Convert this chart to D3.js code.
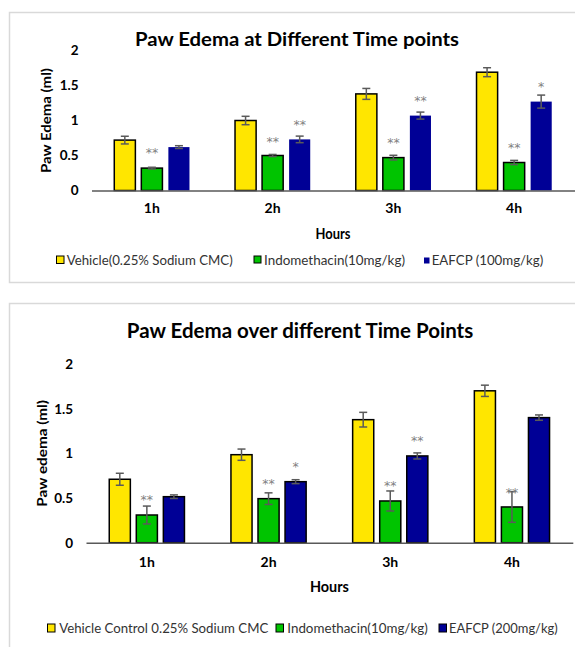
<!DOCTYPE html>
<html>
<head>
<meta charset="utf-8">
<script src="https://cdn.jsdelivr.net/npm/d3@7"></script>
<style>
  html, body { margin: 0; padding: 0; background: #ffffff; }
  svg { display: block; font-family: Lato, "Open Sans", "DejaVu Sans", sans-serif; }
  .sig { opacity: 0.99; }
</style>
</head>
<body>
<svg id="chart" width="575" height="647"></svg>
<script>
// ---- shared categories and axis ticks ----
const hours = ["1h", "2h", "3h", "4h"];
const yTicks = [0, 0.5, 1, 1.5, 2];
const yTickLabels = ["0", "0.5", "1", "1.5", "2"];

// ---- panel A: 100 mg/kg study (paw edema, ml; mean and SEM) ----
const seriesNamesA = ["Vehicle(0.25% Sodium CMC)", "Indomethacin(10mg/kg)", "EAFCP (100mg/kg)"];
const vehicleA = [0.72, 1.00, 1.38, 1.69];
const vehicleErrA = [0.055, 0.06, 0.078, 0.064];
const indoA = [0.32, 0.50, 0.47, 0.40];
const indoErrA = [0.012, 0.015, 0.033, 0.03];
const eafcpA = [0.62, 0.73, 1.07, 1.27];
const eafcpErrA = [0.02, 0.047, 0.05, 0.093];
// significance marks and the height (ml) at which each is written
const indoSigA = ["**", "**", "**", "**"];
const indoSigAtA = [0.58, 0.75, 0.73, 0.66];
const eafcpSigA = ["", "**", "**", "*"];
const eafcpSigAtA = [0, 0.98, 1.33, 1.53];

// ---- panel B: 200 mg/kg study ----
const seriesNamesB = ["Vehicle Control 0.25% Sodium CMC", "Indomethacin(10mg/kg)", "EAFCP (200mg/kg)"];
const vehicleB = [0.71, 0.985, 1.377, 1.70];
const vehicleErrB = [0.067, 0.063, 0.082, 0.063];
const indoB = [0.31, 0.493, 0.467, 0.40];
const indoErrB = [0.10, 0.065, 0.112, 0.172];
const eafcpB = [0.515, 0.683, 0.971, 1.40];
const eafcpErrB = [0.02, 0.022, 0.034, 0.03];
const indoSigB = ["**", "**", "**", "**"];
const indoSigAtB = [0.515, 0.694, 0.672, 0.598];
const eafcpSigB = ["", "*", "**", ""];
const eafcpSigAtB = [0, 0.881, 1.176, 0];

const colors = ["#ffe600", "#00c400", "#000096"];

const svg = d3.select("#chart");

// fit a text element to a given width
function fit(sel, w) {
  sel.attr("textLength", w).attr("lengthAdjust", "spacingAndGlyphs");
  return sel;
}

function drawPanel(cfg) {
  const g = svg.append("g");

  // light frame round the chart
  g.append("rect")
    .attr("x", cfg.frame[0]).attr("y", cfg.frame[1])
    .attr("width", cfg.frame[2]).attr("height", cfg.frame[3])
    .attr("fill", "none").attr("stroke", "#d9d9d9").attr("stroke-width", 1.5);

  const x0 = d3.scaleBand().domain(hours).range(cfg.xRange).paddingInner(0).paddingOuter(0);
  const keys = [0, 1, 2];
  const x1 = d3.scaleBand().domain(keys).range([-37.6, 37.6]).paddingInner(0.22).paddingOuter(0);
  const y = d3.scaleLinear().domain([0, 2]).range(cfg.yRange);

  // title
  fit(g.append("text")
    .attr("x", cfg.titlePos[0]).attr("y", cfg.titlePos[1])
    .attr("text-anchor", "middle")
    .attr("font-size", cfg.titleSize).attr("font-weight", 700).attr("fill", "#000")
    .text(cfg.title), cfg.titleWidth);

  // y axis: labels only
  const yAxis = d3.axisLeft(y).tickValues(yTicks)
    .tickFormat((d, i) => yTickLabels[i]).tickSize(0).tickPadding(13);
  const ya = g.append("g").attr("transform", `translate(${cfg.xRange[0]},0)`).call(yAxis);
  ya.select(".domain").remove();
  ya.selectAll("text").attr("font-size", 13.5).attr("font-weight", 700)
    .attr("fill", "#000").attr("font-family", "Lato, sans-serif");

  // y axis title
  fit(g.append("text")
    .attr("transform", `translate(${cfg.yTitlePos[0]},${cfg.yTitlePos[1]}) rotate(-90)`)
    .attr("text-anchor", "middle").attr("dy", "0.35em")
    .attr("font-size", 14).attr("font-weight", 700).attr("fill", "#000")
    .text(cfg.yTitle), cfg.yTitleWidth);

  // bars
  const series = cfg.series;
  const groups = g.append("g").selectAll("g").data(hours).join("g")
    .attr("transform", h => `translate(${x0(h) + x0.bandwidth() / 2},0)`);

  series.forEach((s, k) => {
    const bw = x1.bandwidth();
    groups.append("rect")
      .attr("x", x1(k))
      .attr("y", (h, i) => y(s.values[i]))
      .attr("width", bw)
      .attr("height", (h, i) => y(0) - y(s.values[i]))
      .attr("fill", colors[k])
      .attr("stroke", s.stroke)
      .attr("stroke-width", s.stroke === "none" ? 0 : 1.5);
  });

  // error bars
  series.forEach((s, k) => {
    const cx = x1(k) + x1.bandwidth() / 2;
    const eb = groups.append("g").attr("stroke", "#5a5a5a").attr("stroke-width", 1.5);
    eb.append("line")
      .attr("x1", cx).attr("x2", cx)
      .attr("y1", (h, i) => y(s.values[i] + s.err[i]))
      .attr("y2", (h, i) => y(s.values[i] - s.err[i]));
    [1, -1].forEach(sign => {
      eb.append("line")
        .attr("x1", cx - 4).attr("x2", cx + 4)
        .attr("y1", (h, i) => y(s.values[i] + sign * s.err[i]))
        .attr("y2", (h, i) => y(s.values[i] + sign * s.err[i]));
    });
  });

  // significance marks
  series.forEach((s, k) => {
    if (!s.sig) return;
    const cx = x1(k) + x1.bandwidth() / 2;
    groups.append("text")
      .attr("class", "sig")
      .attr("x", cx)
      .attr("y", (h, i) => y(s.sigAt[i]) + 7.5)
      .attr("text-anchor", "middle")
      .attr("font-size", 12.5).attr("fill", "#808080")
      .attr("font-family", "'DejaVu Sans', sans-serif")
      .text((h, i) => s.sig[i]);
  });

  // x axis line and hour labels
  const xAxis = d3.axisBottom(x0).tickSize(0).tickSizeOuter(0).tickPadding(cfg.xPad);
  const xa = g.append("g").attr("transform", `translate(0,${y(0)})`).call(xAxis);
  xa.select(".domain").attr("stroke", "#595959").attr("stroke-width", 1.5);
  xa.selectAll("text").attr("font-size", 14).attr("font-weight", 700)
    .attr("fill", "#000").attr("font-family", "Lato, sans-serif");

  // x axis title
  fit(g.append("text")
    .attr("x", (cfg.xRange[0] + cfg.xRange[1]) / 2).attr("y", cfg.xTitleY)
    .attr("text-anchor", "middle")
    .attr("font-size", 16).attr("font-weight", 700).attr("fill", "#000")
    .text("Hours"), cfg.xTitleWidth);

  // legend
  cfg.legend.forEach((item, k) => {
    const sq = item.square;
    g.append("rect")
      .attr("x", sq[0]).attr("y", sq[1]).attr("width", sq[2]).attr("height", sq[3])
      .attr("fill", colors[k])
      .attr("stroke", item.outline ? "#000" : "none").attr("stroke-width", 1);
    fit(g.append("text")
      .attr("x", item.text[0]).attr("y", cfg.legendY)
      .attr("font-size", 13.5).attr("fill", "#333")
      .text(cfg.names[k]), item.text[1]);
  });
}

drawPanel({
  frame: [9.5, 12.5, 620, 270],
  xRange: [91.5, 574.5],
  yRange: [190.5, 50.5],
  title: "Paw Edema at Different Time points",
  titlePos: [297, 46], titleSize: 19, titleWidth: 324,
  yTitle: "Paw Edema (ml)", yTitlePos: [46, 120.5], yTitleWidth: 105,
  xPad: 12.5, xTitleY: 238.5, xTitleWidth: 35,
  names: seriesNamesA,
  series: [
    { values: vehicleA, err: vehicleErrA, stroke: "#000" },
    { values: indoA, err: indoErrA, stroke: "#000", sig: indoSigA, sigAt: indoSigAtA },
    { values: eafcpA, err: eafcpErrA, stroke: "none", sig: eafcpSigA, sigAt: eafcpSigAtA }
  ],
  legendY: 264.5,
  legend: [
    { square: [56.5, 256, 7.5, 7.5], outline: true, text: [66.7, 166] },
    { square: [254, 256, 7, 7], outline: true, text: [264, 141] },
    { square: [424, 257.5, 5.5, 6], outline: false, text: [431.7, 111.6] }
  ]
});

drawPanel({
  frame: [9.5, 303.5, 620, 400],
  xRange: [86, 572.8],
  yRange: [542.7, 364],
  title: "Paw Edema over different Time Points",
  titlePos: [300, 337.5], titleSize: 20, titleWidth: 346.5,
  yTitle: "Paw edema (ml)", yTitlePos: [42.5, 453.3], yTitleWidth: 106.7,
  xPad: 14.3, xTitleY: 591.5, xTitleWidth: 39,
  names: seriesNamesB,
  series: [
    { values: vehicleB, err: vehicleErrB, stroke: "#000" },
    { values: indoB, err: indoErrB, stroke: "#000", sig: indoSigB, sigAt: indoSigAtB },
    { values: eafcpB, err: eafcpErrB, stroke: "#000", sig: eafcpSigB, sigAt: eafcpSigAtB }
  ],
  legendY: 632.5,
  legend: [
    { square: [47.5, 624, 7.5, 8], outline: true, text: [59.3, 209] },
    { square: [276, 624, 7.5, 8], outline: true, text: [287.3, 140.4] },
    { square: [439, 624, 7.5, 8], outline: true, text: [449, 108.7] }
  ]
});
</script>
</body>
</html>
